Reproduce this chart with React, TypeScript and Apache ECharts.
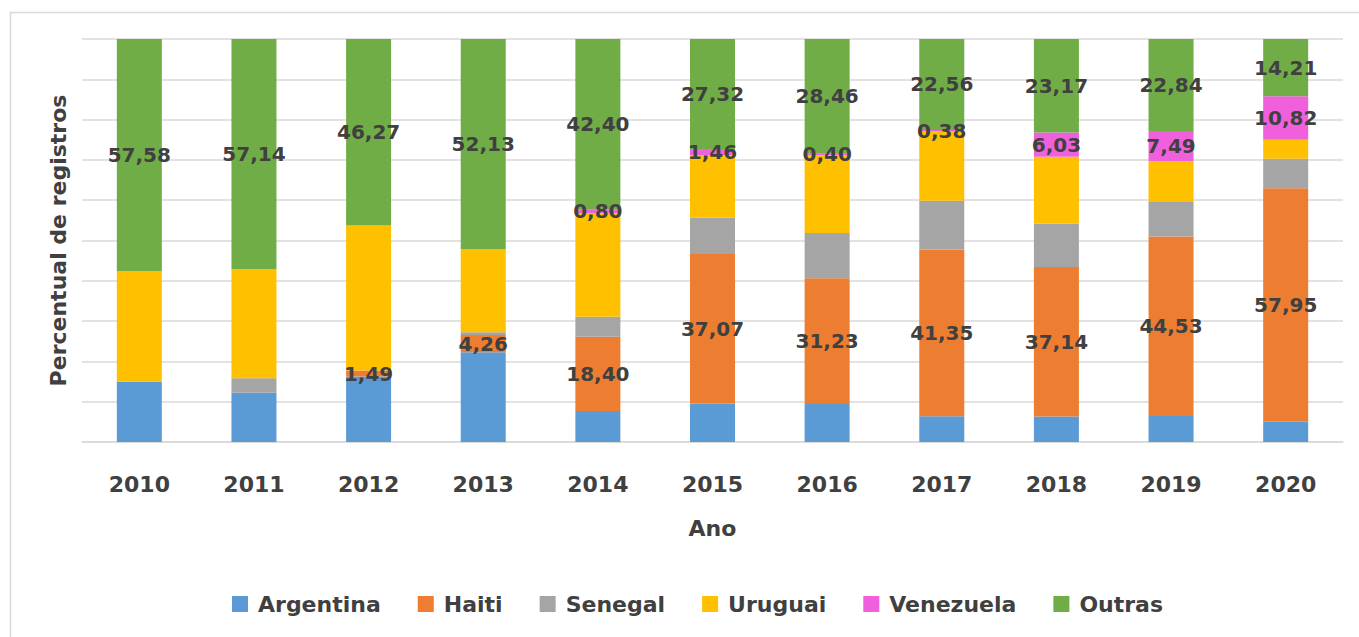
import React, { useEffect, useRef } from "react";
import * as echarts from "echarts";

const years = ["2010", "2011", "2012", "2013", "2014", "2015", "2016", "2017", "2018", "2019", "2020"];
const argentina = [14.92, 12.24, 16.24, 22.3, 7.7, 9.55, 9.41, 6.4, 6.31, 6.44, 5.0];
const haiti = [0, 0, 1.49, 4.26, 18.4, 37.07, 31.23, 41.35, 37.14, 44.53, 57.95];
const senegal = [0, 3.55, 0, 0.7, 5.0, 9.0, 11.2, 12.11, 10.7, 8.8, 7.32];
const uruguai = [27.5, 27.07, 36.0, 20.6, 25.7, 15.6, 19.3, 17.2, 16.65, 9.9, 4.7];
const venezuela = [0, 0, 0, 0, 0.8, 1.46, 0.4, 0.38, 6.03, 7.49, 10.82];
const outras = [57.58, 57.14, 46.27, 52.13, 42.4, 27.32, 28.46, 22.56, 23.17, 22.84, 14.21];

const seriesNames = ["Argentina", "Haiti", "Senegal", "Uruguai", "Venezuela", "Outras"];
const seriesData = [argentina, haiti, senegal, uruguai, venezuela, outras];
const seriesColors = ["#5B9BD5", "#ED7D31", "#A5A5A5", "#FFC000", "#F060DC", "#70AD47"];
const labeled = [false, true, false, false, true, true];

const FONT = "DejaVu Sans";
const TEXT = "#404040";

export default function App() {
  const ref = useRef<HTMLDivElement>(null);
  useEffect(() => {
    if (!ref.current) return;
    const chart = echarts.init(ref.current, null, { renderer: "svg" });
    chart.setOption({
      animation: false,
      backgroundColor: "#ffffff",
      graphic: [
        {
          type: "rect",
          shape: { x: 10.5, y: 12.5, width: 1500, height: 800 },
          style: { fill: "none", stroke: "#d9d9d9", lineWidth: 1.5 },
          silent: true,
        },
      ],
      grid: { left: 82, right: 16, top: 39, bottom: 195 },
      legend: {
        data: seriesNames,
        left: 227,
        top: 588,
        icon: "rect",
        itemWidth: 16,
        itemHeight: 16,
        itemGap: 37,
        textStyle: {
          fontFamily: FONT,
          fontWeight: "bold",
          fontSize: 22,
          color: TEXT,
          padding: [0, 0, 0, 5],
        },
      },
      xAxis: {
        type: "category",
        data: years,
        name: "Ano",
        nameLocation: "middle",
        nameGap: 75,
        nameTextStyle: { fontFamily: FONT, fontWeight: "bold", fontSize: 22, color: TEXT },
        axisLine: { lineStyle: { color: "#d9d9d9", width: 1.5 } },
        axisTick: { show: false },
        axisLabel: { margin: 31, fontFamily: FONT, fontWeight: "bold", fontSize: 22, color: TEXT },
      },
      yAxis: {
        type: "value",
        min: 0,
        max: 100,
        interval: 10,
        name: "Percentual de registros",
        nameLocation: "middle",
        nameGap: 13,
        nameTextStyle: { fontFamily: FONT, fontWeight: "bold", fontSize: 22, color: TEXT },
        axisLine: { show: false },
        axisTick: { show: false },
        axisLabel: { show: false },
        splitLine: { lineStyle: { color: "#d9d9d9", width: 1.5 } },
      },
      series: seriesNames.map((name, i) => ({
        name,
        type: "bar",
        stack: "total",
        barWidth: 45,
        data: seriesData[i],
        itemStyle: { color: seriesColors[i] },
        label: {
          show: labeled[i],
          position: "inside",
          fontFamily: FONT,
          fontWeight: "bold",
          fontSize: 20,
          color: TEXT,
          formatter: (p: any) => (p.value > 0 ? Number(p.value).toFixed(2).replace(".", ",") : ""),
        },
        labelLayout: { hideOverlap: false },
      })),
    });
    return () => chart.dispose();
  }, []);
  return (
    <div
      ref={ref}
      style={{ position: "absolute", left: 0, top: 0, width: 1359, height: 637 }}
    />
  );
}
